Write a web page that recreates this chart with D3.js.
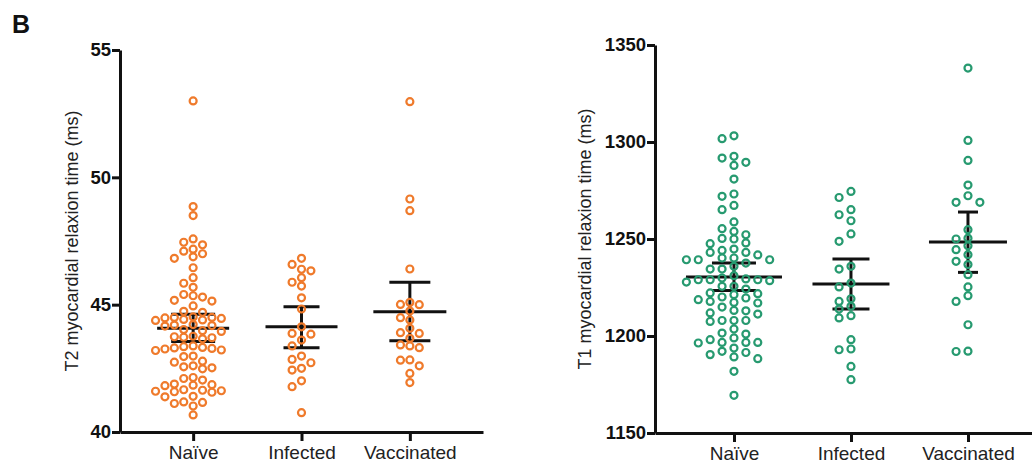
<!DOCTYPE html>
<html>
<head>
<meta charset="utf-8">
<script src="https://cdn.jsdelivr.net/npm/d3@7"></script>
<style>
  body { margin: 0; background: #fff; }
  svg { display: block; font-family: "Liberation Sans", Arial, sans-serif; }
</style>
</head>
<body>
<svg width="1032" height="471"></svg>
<script>
const groups = ['Naïve', 'Infected', 'Vaccinated'];

// T2 (ms), one value per animal
const t2Naive = [53.0, 48.85, 48.5,
  47.58, 47.45, 47.35, 47.18, 47.1, 47.0, 46.88, 46.82,
  46.45, 46.06, 45.84, 45.68, 45.4, 45.35, 45.3, 45.17, 45.14, 44.95,
  44.74, 44.7, 44.52, 44.5, 44.5, 44.48, 44.46, 44.42, 44.4, 44.38,
  44.22, 44.2, 44.18, 44.16, 44.02, 43.98, 43.95,
  43.76, 43.74, 43.72, 43.7, 43.66,
  43.38, 43.35, 43.32, 43.3, 43.28, 43.26, 43.22, 43.2,
  42.98, 42.96, 42.78, 42.74, 42.6, 42.56, 42.52, 42.48,
  42.14, 42.1, 42.04, 41.88, 41.86, 41.84, 41.82,
  41.66, 41.64, 41.62, 41.6, 41.58, 41.56, 41.4, 41.38,
  41.18, 41.16, 41.12, 41.02, 40.67];
const t2Infected = [46.82, 46.58, 46.39, 46.33, 46.06, 45.88, 45.73, 45.27, 44.83,
  44.13, 43.87, 43.84, 43.61, 43.38, 42.98, 42.85, 42.72, 42.5, 42.43, 42.01, 41.78, 40.76];
const t2Vaccinated = [52.97, 49.15, 48.69, 46.4, 45.09, 45.01, 45.0, 44.75, 44.49, 44.4,
  44.07, 43.9, 43.87, 43.68, 43.42, 43.38, 43.31, 42.83, 42.82, 42.6, 42.3, 41.94];
const t2Mean = [44.07, 44.13, 44.72];
const t2Low = [43.55, 43.31, 43.58];
const t2High = [44.62, 44.92, 45.88];
const t2Ticks = [40, 45, 50, 55];

// T1 (ms)
const t1Naive = [1303.2, 1301.7, 1292.6, 1291.7, 1289.5, 1287.9, 1280.9, 1273.2, 1272.0,
  1267.3, 1265.1, 1258.8, 1255.3, 1253.9, 1252.2, 1250.3, 1250.0, 1248.0, 1247.6,
  1244.8, 1244.1, 1243.1, 1243.1, 1241.8, 1240.2, 1240.2, 1239.3, 1239.3, 1239.3,
  1237.6, 1235.9, 1234.5, 1234.5, 1231.1, 1229.9, 1229.4, 1229.0, 1229.0, 1229.0, 1228.5, 1227.8,
  1225.6, 1225.6, 1224.2, 1222.2, 1221.8, 1221.3, 1220.1, 1219.6, 1218.7, 1217.8, 1217.3, 1217.0,
  1214.9, 1213.2, 1213.0, 1211.9, 1211.3, 1208.0, 1208.0, 1208.0, 1207.5, 1203.6, 1201.5, 1201.0,
  1199.0, 1198.1, 1196.7, 1196.7, 1196.7, 1196.4, 1193.8, 1192.1, 1191.5, 1190.4, 1189.2, 1188.3,
  1181.8, 1169.4];
const t1Infected = [1274.5, 1271.4, 1265.1, 1262.5, 1259.4, 1252.6, 1248.8, 1235.9, 1234.5,
  1227.3, 1225.3, 1219.2, 1217.8, 1215.3, 1213.9, 1210.5, 1209.3, 1198.1, 1193.3, 1192.9,
  1184.3, 1177.5];
const t1Vaccinated = [1338.1, 1300.8, 1290.5, 1277.8, 1272.3, 1268.9, 1268.9, 1254.8, 1250.4,
  1250.0, 1246.5, 1244.5, 1241.9, 1238.5, 1236.8, 1231.6, 1225.3, 1220.8, 1217.8, 1205.8,
  1192.2, 1192.0];
const t1Mean = [1230.4, 1226.8, 1248.5];
const t1Low = [1223.5, 1213.9, 1232.8];
const t1High = [1237.6, 1239.7, 1263.9];
const t1Ticks = [1150, 1200, 1250, 1300, 1350];

const svg = d3.select('svg');

svg.append('text')
  .attr('x', 12).attr('y', 33)
  .attr('font-size', 25).attr('font-weight', 'bold')
  .attr('fill', '#111')
  .text('B');

// place points column by column so circles in a column don't overlap
function swarm(values, y, cx, step, minD) {
  const placed = [];
  return values.slice().sort((a, b) => b - a).map(v => {
    const py = y(v);
    for (let i = 0; ; i++) {
      const off = i === 0 ? 0 : (i % 2 ? -Math.ceil(i / 2) : Math.ceil(i / 2));
      const px = cx + off * step;
      const hit = placed.some(p => Math.abs(p.x - px) < 1 && Math.abs(p.y - py) < minD);
      if (!hit) {
        placed.push({x: px, y: py});
        return {x: px, y: py};
      }
    }
  });
}

function panel(o) {
  const x = d3.scalePoint().domain(groups).range(o.xRange).padding(0.675);
  const y = d3.scaleLinear().domain(o.domain).range(o.yRange);
  const g = svg.append('g');

  const yAxis = g.append('g')
    .attr('transform', `translate(${o.xRange[0]},0)`)
    .call(d3.axisLeft(y).tickValues(o.ticks).tickFormat(d3.format('d'))
      .tickSize(8).tickSizeOuter(0).tickPadding(1));
  const xAxis = g.append('g')
    .attr('transform', `translate(0,${o.yRange[0]})`)
    .call(d3.axisBottom(x).tickSize(9).tickSizeOuter(0).tickPadding(5));

  [yAxis, xAxis].forEach(a => {
    a.select('.domain').attr('stroke', '#111').attr('stroke-width', 3);
    a.selectAll('.tick line').attr('stroke', '#111').attr('stroke-width', 3);
  });
  yAxis.selectAll('.tick text')
    .attr('font-size', 18.5).attr('font-weight', 'bold').attr('fill', '#111')
    .attr('font-family', '"Liberation Sans", Arial, sans-serif');
  xAxis.selectAll('.tick text')
    .attr('font-size', 19).attr('fill', '#222')
    .attr('font-family', '"Liberation Sans", Arial, sans-serif');

  g.append('text')
    .attr('transform', `translate(${o.titleX},${(o.yRange[0] + o.yRange[1]) / 2}) rotate(-90)`)
    .attr('text-anchor', 'middle')
    .attr('dominant-baseline', 'middle')
    .attr('font-size', 18)
    .attr('fill', '#222')
    .text(o.title);

  const bars = g.append('g').attr('stroke', '#111').attr('stroke-width', 3);
  groups.forEach((c, i) => {
    const cx = x(c);
    bars.append('line').attr('x1', cx).attr('x2', cx)
      .attr('y1', y(o.low[i])).attr('y2', y(o.high[i]));
    [o.low[i], o.high[i]].forEach(v => {
      bars.append('line').attr('x1', cx - o.capW[i] / 2).attr('x2', cx + o.capW[i] / 2)
        .attr('y1', y(v)).attr('y2', y(v));
    });
    bars.append('line').attr('x1', cx - o.meanW[i] / 2).attr('x2', cx + o.meanW[i] / 2)
      .attr('y1', y(o.mean[i])).attr('y2', y(o.mean[i]));
  });

  o.series.forEach((vals, i) => {
    const pts = swarm(vals, y, x(groups[i]), o.step, o.minD);
    g.append('g').selectAll('circle').data(pts).join('circle')
      .attr('cx', d => d.x).attr('cy', d => d.y).attr('r', 3.5)
      .attr('fill', 'none').attr('stroke', o.color).attr('stroke-width', 2.2);
  });
}

panel({
  xRange: [120, 483], yRange: [432, 50], domain: [40, 55], ticks: t2Ticks,
  series: [t2Naive, t2Infected, t2Vaccinated],
  mean: t2Mean, low: t2Low, high: t2High,
  color: '#ef7a2b', step: 9.4, minD: 7.4,
  meanW: [72, 72, 73], capW: [44, 36, 41],
  title: 'T2 myocardial relaxion time (ms)', titleX: 73
});

panel({
  xRange: [655, 655 + 117 * 3.35], yRange: [433, 45], domain: [1150, 1350], ticks: t1Ticks,
  series: [t1Naive, t1Infected, t1Vaccinated],
  mean: t1Mean, low: t1Low, high: t1High,
  color: '#279a70', step: 11.9, minD: 7.4,
  meanW: [96, 77, 78], capW: [44, 37, 20],
  title: 'T1 myocardial relaxion time (ms)', titleX: 586
});
</script>
</body>
</html>
